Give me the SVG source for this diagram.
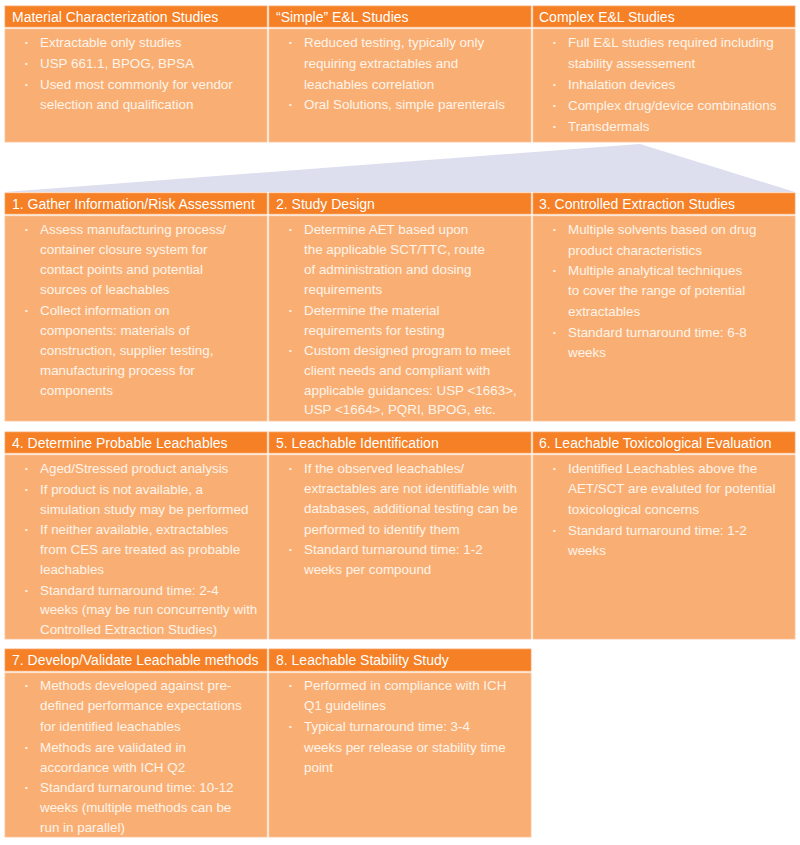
<svg xmlns="http://www.w3.org/2000/svg" width="800" height="845" viewBox="0 0 800 845">
<style>
.hd{fill:#F58026;stroke:#F7A263;stroke-width:0.8}
.bd{fill:#F9AF74;stroke:#FAC196;stroke-width:0.8}
.ht{font-family:"Liberation Sans",Arial,sans-serif;font-size:14px;fill:#FFFFFF}
.bt{font-family:"Liberation Sans",Arial,sans-serif;font-size:13.4px;fill:#FFF4EA}
.bu{font-family:"Liberation Sans",Arial,sans-serif;font-size:8px;fill:#FFF4EA}
</style>
<rect x="0" y="0" width="800" height="845" fill="#FFFFFF"/>
<g id="connectors">
<polygon points="5,192 640,144 795,192" fill="#DDDEEE"/>
</g>

<g id="material-characterization">
<rect class="hd" x="5" y="6" width="262" height="21"/>
<rect class="bd" x="5" y="29" width="262" height="113"/>
<text class="ht" x="12" y="22">Material Characterization Studies</text>
<text class="bu" x="25" y="45">•</text><text class="bt" x="40" y="47">Extractable only studies</text>
<text class="bu" x="25" y="66">•</text><text class="bt" x="40" y="67.8">USP 661.1, BPOG, BPSA</text>
<text class="bu" x="25" y="86.5">•</text><text class="bt" x="40" y="88.6">Used most commonly for vendor</text>
<text class="bt" x="40" y="109.2">selection and qualification</text>
</g>

<g id="simple-el">
<rect class="hd" x="269" y="6" width="262" height="21"/>
<rect class="bd" x="269" y="29" width="262" height="113"/>
<text class="ht" x="276" y="22">“Simple” E&amp;L Studies</text>
<text class="bu" x="289" y="45">•</text><text class="bt" x="304" y="47">Reduced testing, typically only</text>
<text class="bt" x="304" y="67.8">requiring extractables and</text>
<text class="bt" x="304" y="88.6">leachables correlation</text>
<text class="bu" x="289" y="107">•</text><text class="bt" x="304" y="109.2">Oral Solutions, simple parenterals</text>
</g>

<g id="complex-el">
<rect class="hd" x="533" y="6" width="262" height="21"/>
<rect class="bd" x="533" y="29" width="262" height="113"/>
<text class="ht" x="539" y="22">Complex E&amp;L Studies</text>
<text class="bu" x="553" y="45">•</text><text class="bt" x="568" y="47">Full E&amp;L studies required including</text>
<text class="bt" x="568" y="67.8">stability assessement</text>
<text class="bu" x="553" y="86.5">•</text><text class="bt" x="568" y="88.6">Inhalation devices</text>
<text class="bu" x="553" y="107.5">•</text><text class="bt" x="568" y="109.6">Complex drug/device combinations</text>
<text class="bu" x="553" y="128.5">•</text><text class="bt" x="568" y="130.6">Transdermals</text>
</g>

<g id="step1">
<rect class="hd" x="5" y="193" width="262" height="21"/>
<rect class="bd" x="5" y="216" width="262" height="205"/>
<text class="ht" x="12" y="209">1. Gather Information/Risk Assessment</text>
<text class="bu" x="25" y="232">•</text><text class="bt" x="40" y="234">Assess manufacturing process/</text>
<text class="bt" x="40" y="254">container closure system for</text>
<text class="bt" x="40" y="274">contact points and potential</text>
<text class="bt" x="40" y="294.2">sources of leachables</text>
<text class="bu" x="25" y="313">•</text><text class="bt" x="40" y="315">Collect information on</text>
<text class="bt" x="40" y="335">components: materials of</text>
<text class="bt" x="40" y="355">construction, supplier testing,</text>
<text class="bt" x="40" y="375">manufacturing process for</text>
<text class="bt" x="40" y="394.5">components</text>
</g>

<g id="step2">
<rect class="hd" x="269" y="193" width="262" height="21"/>
<rect class="bd" x="269" y="216" width="262" height="205"/>
<text class="ht" x="276" y="209">2. Study Design</text>
<text class="bu" x="289" y="232">•</text><text class="bt" x="304" y="234">Determine AET based upon</text>
<text class="bt" x="304" y="254">the applicable SCT/TTC, route</text>
<text class="bt" x="304" y="274">of administration and dosing</text>
<text class="bt" x="304" y="294.2">requirements</text>
<text class="bu" x="289" y="313">•</text><text class="bt" x="304" y="315">Determine the material</text>
<text class="bt" x="304" y="335">requirements for testing</text>
<text class="bu" x="289" y="353">•</text><text class="bt" x="304" y="355">Custom designed program to meet</text>
<text class="bt" x="304" y="375">client needs and compliant with</text>
<text class="bt" x="304" y="394.5">applicable guidances: USP &lt;1663&gt;,</text>
<text class="bt" x="304" y="414">USP &lt;1664&gt;, PQRI, BPOG, etc.</text>
</g>

<g id="step3">
<rect class="hd" x="533" y="193" width="262" height="21"/>
<rect class="bd" x="533" y="216" width="262" height="205"/>
<text class="ht" x="539" y="209">3. Controlled Extraction Studies</text>
<text class="bu" x="553" y="232">•</text><text class="bt" x="568" y="234">Multiple solvents based on drug</text>
<text class="bt" x="568" y="255">product characteristics</text>
<text class="bu" x="553" y="273">•</text><text class="bt" x="568" y="275">Multiple analytical techniques</text>
<text class="bt" x="568" y="295">to cover the range of potential</text>
<text class="bt" x="568" y="316">extractables</text>
<text class="bu" x="553" y="335">•</text><text class="bt" x="568" y="337">Standard turnaround time: 6-8</text>
<text class="bt" x="568" y="357">weeks</text>
</g>

<g id="step4">
<rect class="hd" x="5" y="432" width="262" height="21"/>
<rect class="bd" x="5" y="455" width="262" height="184"/>
<text class="ht" x="12" y="448">4. Determine Probable Leachables</text>
<text class="bu" x="25" y="471">•</text><text class="bt" x="40" y="473">Aged/Stressed product analysis</text>
<text class="bu" x="25" y="491.7">•</text><text class="bt" x="40" y="493.7">If product is not available, a</text>
<text class="bt" x="40" y="513.7">simulation study may be performed</text>
<text class="bu" x="25" y="532.3">•</text><text class="bt" x="40" y="534.3">If neither available, extractables</text>
<text class="bt" x="40" y="554.3">from CES are treated as probable</text>
<text class="bt" x="40" y="573.7">leachables</text>
<text class="bu" x="25" y="593">•</text><text class="bt" x="40" y="595">Standard turnaround time: 2-4</text>
<text class="bt" x="40" y="614.3">weeks (may be run concurrently with</text>
<text class="bt" x="40" y="634.3">Controlled Extraction Studies)</text>
</g>

<g id="step5">
<rect class="hd" x="269" y="432" width="262" height="21"/>
<rect class="bd" x="269" y="455" width="262" height="184"/>
<text class="ht" x="276" y="448">5. Leachable Identification</text>
<text class="bu" x="289" y="471">•</text><text class="bt" x="304" y="473">If the observed leachables/</text>
<text class="bt" x="304" y="493.3">extractables are not identifiable with</text>
<text class="bt" x="304" y="513.3">databases, additional testing can be</text>
<text class="bt" x="304" y="534">performed to identify them</text>
<text class="bu" x="289" y="552">•</text><text class="bt" x="304" y="554">Standard turnaround time: 1-2</text>
<text class="bt" x="304" y="574">weeks per compound</text>
</g>

<g id="step6">
<rect class="hd" x="533" y="432" width="262" height="21"/>
<rect class="bd" x="533" y="455" width="262" height="184"/>
<text class="ht" x="539" y="448">6. Leachable Toxicological Evaluation</text>
<text class="bu" x="553" y="471">•</text><text class="bt" x="568" y="473">Identified Leachables above the</text>
<text class="bt" x="568" y="493.3">AET/SCT are evaluted for potential</text>
<text class="bt" x="568" y="514">toxicological concerns</text>
<text class="bu" x="553" y="532.5">•</text><text class="bt" x="568" y="534.5">Standard turnaround time: 1-2</text>
<text class="bt" x="568" y="554.5">weeks</text>
</g>

<g id="step7">
<rect class="hd" x="5" y="649" width="262" height="22"/>
<rect class="bd" x="5" y="673" width="262" height="164"/>
<text class="ht" x="12" y="665">7. Develop/Validate Leachable methods</text>
<text class="bu" x="25" y="688">•</text><text class="bt" x="40" y="690">Methods developed against pre-</text>
<text class="bt" x="40" y="710.3">defined performance expectations</text>
<text class="bt" x="40" y="731">for identified leachables</text>
<text class="bu" x="25" y="749.7">•</text><text class="bt" x="40" y="751.7">Methods are validated in</text>
<text class="bt" x="40" y="771.7">accordance with ICH Q2</text>
<text class="bu" x="25" y="790.3">•</text><text class="bt" x="40" y="792.3">Standard turnaround time: 10-12</text>
<text class="bt" x="40" y="811.7">weeks (multiple methods can be</text>
<text class="bt" x="40" y="831.7">run in parallel)</text>
</g>

<g id="step8">
<rect class="hd" x="269" y="649" width="262" height="22"/>
<rect class="bd" x="269" y="673" width="262" height="164"/>
<text class="ht" x="276" y="665">8. Leachable Stability Study</text>
<text class="bu" x="289" y="688">•</text><text class="bt" x="304" y="690">Performed in compliance with ICH</text>
<text class="bt" x="304" y="710.3">Q1 guidelines</text>
<text class="bu" x="289" y="729">•</text><text class="bt" x="304" y="731">Typical turnaround time: 3-4</text>
<text class="bt" x="304" y="751.7">weeks per release or stability time</text>
<text class="bt" x="304" y="771.7">point</text>
</g>
</svg>
